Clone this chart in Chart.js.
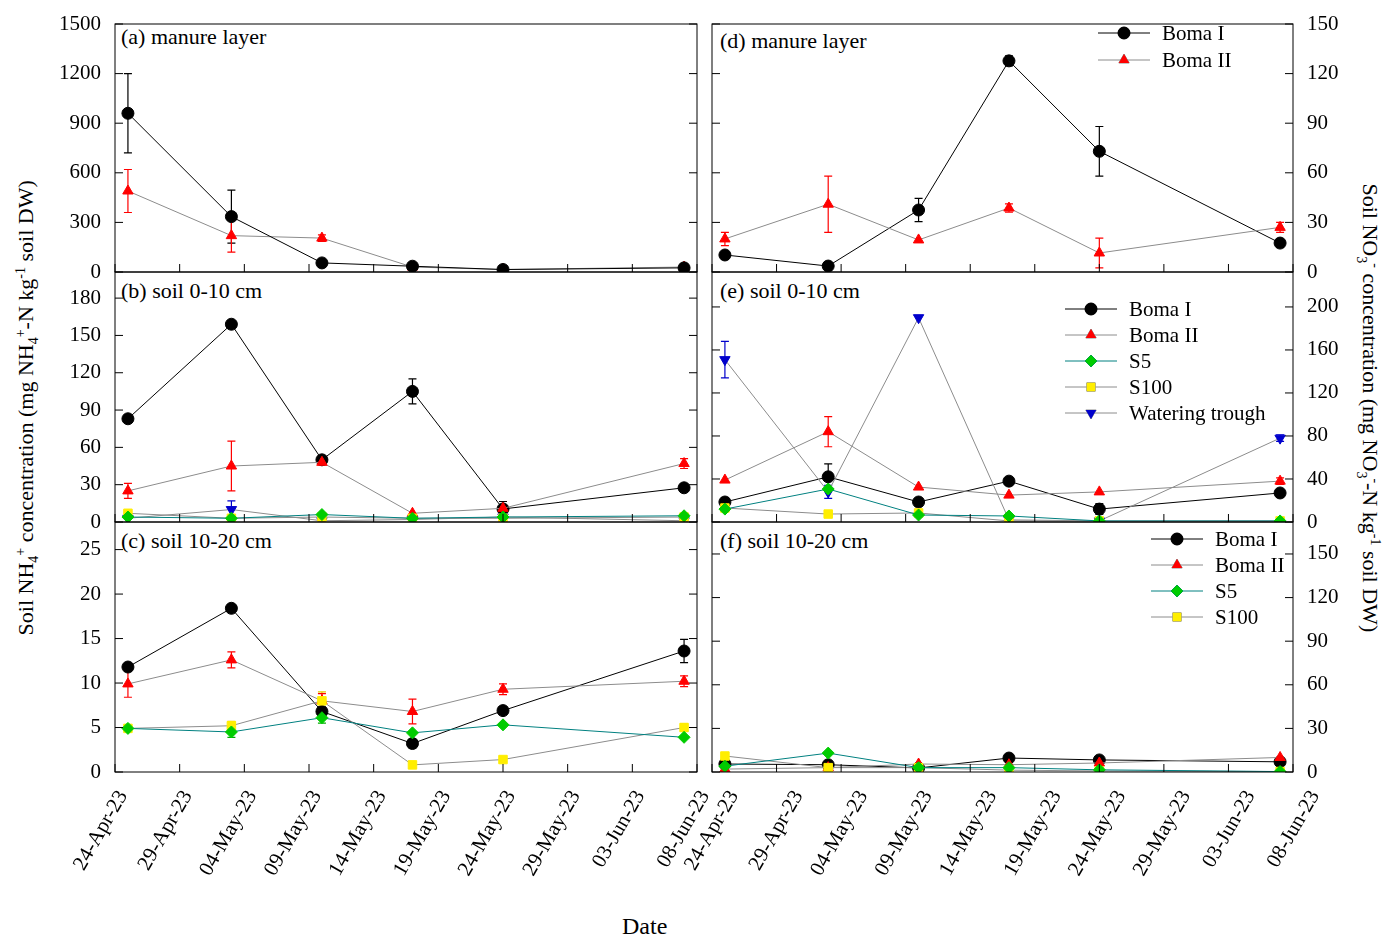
<!DOCTYPE html>
<html>
<head>
<meta charset="utf-8">
<script src="https://cdn.jsdelivr.net/npm/chart.js@4/dist/chart.umd.min.js"></script>
<style>
  body { margin: 0; width: 1382px; height: 938px; background: #fff; position: relative; overflow: hidden;
         font-family: 'Liberation Serif', serif; }
  canvas { position: absolute; }
  .lbl { position: absolute; font-size: 22px; color: #000; white-space: nowrap; }
  .ytitle { position: absolute; font-size: 22px; white-space: nowrap; transform-origin: center center; }
</style>
</head>
<body>
<div class="lbl" style="left:121px;top:24px">(a) manure layer</div>
<div class="lbl" style="left:121px;top:278px">(b) soil 0-10 cm</div>
<div class="lbl" style="left:121px;top:528px">(c) soil 10-20 cm</div>
<div class="lbl" style="left:720px;top:28px">(d) manure layer</div>
<div class="lbl" style="left:720px;top:278px">(e) soil 0-10 cm</div>
<div class="lbl" style="left:720px;top:528px">(f) soil 10-20 cm</div>
<div class="ytitle" id="yl">Soil NH<sub style="font-size:14px">4</sub><sup style="font-size:14px">+</sup> concentration (mg NH<sub style="font-size:14px">4</sub><sup style="font-size:14px">+</sup>-N kg<sup style="font-size:14px">-1</sup> soil DW)</div>
<div class="ytitle" id="yr">Soil NO<sub style="font-size:14px">3</sub><sup style="font-size:14px">-</sup> concentration (mg NO<sub style="font-size:14px">3</sub><sup style="font-size:14px">-</sup>-N kg<sup style="font-size:14px">-1</sup> soil DW)</div>
<div class="lbl" style="left:622px;top:913px;font-size:24px">Date</div>
<script>
// sampling days (days after 24-Apr-23)
const days = [1, 9, 16, 23, 30, 44];
const tickLabels = ['24-Apr-23', '29-Apr-23', '04-May-23', '09-May-23', '14-May-23',
                    '19-May-23', '24-May-23', '29-May-23', '03-Jun-23', '08-Jun-23'];

// (a) NH4+ manure layer
const aBomaI = [960, 335, 55, 35, 15, 25];
const aBomaIErr = [240, 160, 0, 0, 0, 0];
const aBomaII = [490, 220, 205, 30, 15, 30];
const aBomaIIErr = [130, 100, 20, 0, 0, 0];
// (b) NH4+ soil 0-10 cm
const bBomaI = [83, 159, 50, 105, 10.5, 27.5];
const bBomaIErr = [0, 0, 2, 10, 6, 0];
const bBomaII = [25, 45, 48, 7, 11, 47];
const bBomaIIErr = [6, 20, 2, 0, 0, 4];
const bS5 = [4, 3, 6, 3, 4, 5];
const bS100 = [7, 3, 4, 3, 3, 4];
const bTrough = [3, 10, 1, 2, 4, 1];
const bTroughErr = [0, 7, 0, 0, 0, 0];
// (c) NH4+ soil 10-20 cm
const cBomaI = [11.8, 18.4, 6.8, 3.2, 6.9, 13.6];
const cBomaIErr = [0, 0, 0.5, 0.5, 0, 1.3];
const cBomaII = [9.9, 12.6, 8.0, 6.8, 9.3, 10.2];
const cBomaIIErr = [1.5, 0.9, 0.8, 1.4, 0.6, 0.6];
const cS5 = [4.9, 4.5, 6.1, 4.4, 5.3, 3.9];
const cS5Err = [0, 0.6, 0.6, 0, 0, 0];
const cS100 = [4.9, 5.2, 8.0, 0.8, 1.4, 5.0];
const cS100Err = [0, 0.5, 1.0, 0, 0, 0.4];
// (d) NO3- manure layer
const dBomaI = [10.3, 3.6, 37.5, 127.7, 73, 17.5];
const dBomaIErr = [0, 0, 7, 3, 15, 0];
const dBomaII = [20, 41, 19.4, 38.7, 11.5, 27];
const dBomaIIErr = [4, 17, 0, 2.5, 9, 3];
// (e) NO3- soil 0-10 cm
const eBomaI = [18.6, 42, 18.6, 38, 12, 27];
const eBomaIErr = [4, 12, 0, 0, 5, 0];
const eBomaII = [39, 84, 32.5, 25, 28, 38];
const eBomaIIErr = [0, 14, 0, 0, 0, 3];
const eS5 = [12, 30.7, 6.5, 5.6, 1, 1];
const eS100 = [13, 7.4, 8.4, 1, 1, 1];
const eTrough = [151, 28, 190, 2, 1, 78];
const eTroughErr = [17, 6, 0, 0, 0, 3];
// (f) NO3- soil 10-20 cm
const fBomaI = [5.5, 5, 2.8, 9.6, 8.3, 7];
const fBomaII = [2, 3, 5.5, 5, 6.2, 10];
const fS5 = [4, 13, 3, 3, 1.5, 0.3];
const fS100 = [11, 3, 3, 1.3, 0.7, 0.3];

const FONT = "'Liberation Serif', serif";
const STYLE = {
  'Boma I':          { line: '#000000', fill: '#000000', point: 'circle', rot: 0, r: 6 },
  'Boma II':         { line: '#8c8c8c', fill: '#ff0000', point: 'triangle', rot: 0, r: 6 },
  'S5':              { line: '#008080', fill: '#00cc00', point: 'rectRot', rot: 0, r: 6 },
  'S100':            { line: '#8c8c8c', fill: '#ffee00', point: 'rect', rot: 0, r: 6 },
  'Watering trough': { line: '#8c8c8c', fill: '#0000cc', point: 'triangle', rot: 180, r: 6 }
};
const ERRCOL = { 'Boma I': '#000', 'Boma II': '#ff0000', 'S5': '#00aa00', 'S100': '#e6c800', 'Watering trough': '#0000cc' };

function series(name, vals, errs) {
  const s = STYLE[name];
  return {
    label: name,
    data: vals.map((v, i) => ({ x: days[i], y: v })),
    errors: errs || null,
    borderColor: s.line, borderWidth: 1,
    pointStyle: s.point, pointRotation: s.rot, pointRadius: s.r,
    pointBackgroundColor: s.fill, pointBorderColor: s.fill,
    tension: 0
  };
}

const errorBars = {
  id: 'errorBars',
  beforeDatasetsDraw(chart) {
    const ctx = chart.ctx, y = chart.scales.y;
    chart.data.datasets.forEach((ds, di) => {
      if (!ds.errors) return;
      const meta = chart.getDatasetMeta(di);
      ctx.save();
      ctx.strokeStyle = ERRCOL[ds.label];
      ctx.lineWidth = 1.2;
      meta.data.forEach((p, i) => {
        const e = ds.errors[i];
        if (!e) return;
        const v = ds.data[i].y;
        const y1 = y.getPixelForValue(v + e), y2 = y.getPixelForValue(Math.max(0, v - e));
        ctx.beginPath();
        ctx.moveTo(p.x, y1); ctx.lineTo(p.x, y2);
        ctx.moveTo(p.x - 4, y1); ctx.lineTo(p.x + 4, y1);
        ctx.moveTo(p.x - 4, y2); ctx.lineTo(p.x + 4, y2);
        ctx.stroke();
      });
      ctx.restore();
    });
  }
};

const frame = {
  id: 'frame',
  afterDraw(chart) {
    const ctx = chart.ctx, a = chart.chartArea;
    ctx.save();
    ctx.strokeStyle = '#000'; ctx.lineWidth = 1;
    ctx.strokeRect(a.left, a.top, a.right - a.left, a.bottom - a.top);
    ctx.beginPath();
    chart.scales.y.ticks.forEach(t => {
      const py = chart.scales.y.getPixelForValue(t.value);
      ctx.moveTo(a.left, py); ctx.lineTo(a.left + 8, py);
      ctx.moveTo(a.right, py); ctx.lineTo(a.right - 8, py);
    });
    chart.scales.x.ticks.forEach(t => {
      const px = chart.scales.x.getPixelForValue(t.value);
      ctx.moveTo(px, a.bottom); ctx.lineTo(px, a.bottom - 8);
    });
    ctx.stroke();
    const lg = chart.options.plugins.boxLegend;
    if (lg) {
      const oy = parseFloat(chart.canvas.style.top);
      ctx.font = '21px ' + FONT; ctx.fillStyle = '#000'; ctx.textBaseline = 'middle';
      lg.items.forEach((name, i) => {
        const s = STYLE[name];
        const yy = lg.y + i * lg.dy - oy, xx = lg.x;
        ctx.strokeStyle = s.line; ctx.beginPath();
        ctx.moveTo(xx, yy); ctx.lineTo(xx + 52, yy); ctx.stroke();
        ctx.fillStyle = s.fill;
        Chart.helpers.drawPoint(ctx, { pointStyle: s.point, rotation: s.rot, radius: s.r, borderWidth: 1 }, xx + 26, yy);
        ctx.fill();
        ctx.fillStyle = '#000';
        ctx.fillText(name, xx + 64, yy + 1);
      });
    }
    ctx.restore();
  }
};

function makePanel(p) {
  const right = p.side === 'right';
  const L = right ? 712 : 115, R = right ? 1293 : 697;
  const canvasTop = p.top - 30;
  const canvasH = p.showX ? 905 - canvasTop : (p.bottom - p.top) + 60;
  const c = document.createElement('canvas');
  c.width = 1382; c.height = canvasH;
  c.style.left = '0px'; c.style.top = canvasTop + 'px';
  c.style.width = '1382px'; c.style.height = canvasH + 'px';
  document.body.appendChild(c);
  const pad = { top: 30, bottom: p.showX ? 0 : 30, left: right ? L : 0, right: right ? 0 : 1382 - R };
  const chart = new Chart(c, {
    type: 'line',
    data: { datasets: p.datasets },
    options: {
      responsive: false, animation: false, devicePixelRatio: 1,
      layout: { padding: pad },
      plugins: { legend: { display: false }, tooltip: { enabled: false }, boxLegend: p.legend },
      scales: {
        x: {
          type: 'linear', min: 0, max: 45,
          display: p.showX,
          grid: { display: false }, border: { display: false },
          ticks: {
            stepSize: 5, maxRotation: 60, minRotation: 60, labelOffset: right ? 22 : 8, padding: 6,
            font: { family: FONT, size: 21 }, color: '#000',
            callback: v => tickLabels[Math.round(v / 5)]
          }
        },
        y: {
          position: right ? 'right' : 'left',
          min: 0, max: p.max,
          grid: { display: false }, border: { display: false },
          ticks: { stepSize: p.step, font: { family: FONT, size: 21 }, color: '#000', padding: 6, callback: v => String(v) },
          afterBuildTicks: s => { s.ticks = s.ticks.filter(t => t.value <= p.labelMax && t.value % p.step === 0); },
          afterFit: s => { s.width = right ? 89 : 115; }
        }
      }
    },
    plugins: [errorBars, frame]
  });
  // nudge the padding until the plot area sits where the reference has it
  const T = 30, B = p.bottom - canvasTop;
  for (let i = 0; i < 4; i++) {
    const a = chart.chartArea;
    pad.top += T - a.top;
    pad.bottom += a.bottom - B;
    pad.left += L - a.left;
    pad.right += a.right - R;
    chart.options.layout.padding = Object.assign({}, pad);
    chart.update();
  }
}

makePanel({ side: 'left', top: 24, bottom: 272, max: 1500, step: 300, labelMax: 1500, showX: false,
  datasets: [series('Boma I', aBomaI, aBomaIErr), series('Boma II', aBomaII, aBomaIIErr)] });
makePanel({ side: 'left', top: 272, bottom: 522, max: 201, step: 30, labelMax: 180, showX: false,
  datasets: [series('S5', bS5), series('S100', bS100), series('Watering trough', bTrough, bTroughErr),
             series('Boma II', bBomaII, bBomaIIErr), series('Boma I', bBomaI, bBomaIErr)] });
makePanel({ side: 'left', top: 522, bottom: 772, max: 28.1, step: 5, labelMax: 25, showX: true,
  datasets: [series('S5', cS5, cS5Err), series('S100', cS100, cS100Err),
             series('Boma II', cBomaII, cBomaIIErr), series('Boma I', cBomaI, cBomaIErr)] });
makePanel({ side: 'right', top: 24, bottom: 272, max: 150, step: 30, labelMax: 150, showX: false,
  legend: { x: 1098, y: 33, dy: 27, items: ['Boma I', 'Boma II'] },
  datasets: [series('Boma II', dBomaII, dBomaIIErr), series('Boma I', dBomaI, dBomaIErr)] });
makePanel({ side: 'right', top: 272, bottom: 522, max: 232.5, step: 40, labelMax: 200, showX: false,
  legend: { x: 1065, y: 309, dy: 26, items: ['Boma I', 'Boma II', 'S5', 'S100', 'Watering trough'] },
  datasets: [series('S5', eS5), series('S100', eS100), series('Watering trough', eTrough, eTroughErr),
             series('Boma II', eBomaII, eBomaIIErr), series('Boma I', eBomaI, eBomaIErr)] });
makePanel({ side: 'right', top: 522, bottom: 772, max: 172, step: 30, labelMax: 150, showX: true,
  legend: { x: 1151, y: 539, dy: 26, items: ['Boma I', 'Boma II', 'S5', 'S100'] },
  datasets: [series('S5', fS5), series('S100', fS100), series('Boma II', fBomaII), series('Boma I', fBomaI)] });

const yl = document.getElementById('yl'), yr = document.getElementById('yr');
yl.style.left = (27 - yl.offsetWidth / 2) + 'px'; yl.style.top = (408 - yl.offsetHeight / 2) + 'px';
yl.style.transform = 'rotate(-90deg)';
yr.style.left = (1368 - yr.offsetWidth / 2) + 'px'; yr.style.top = (408 - yr.offsetHeight / 2) + 'px';
yr.style.transform = 'rotate(90deg)';
</script>
</body>
</html>
